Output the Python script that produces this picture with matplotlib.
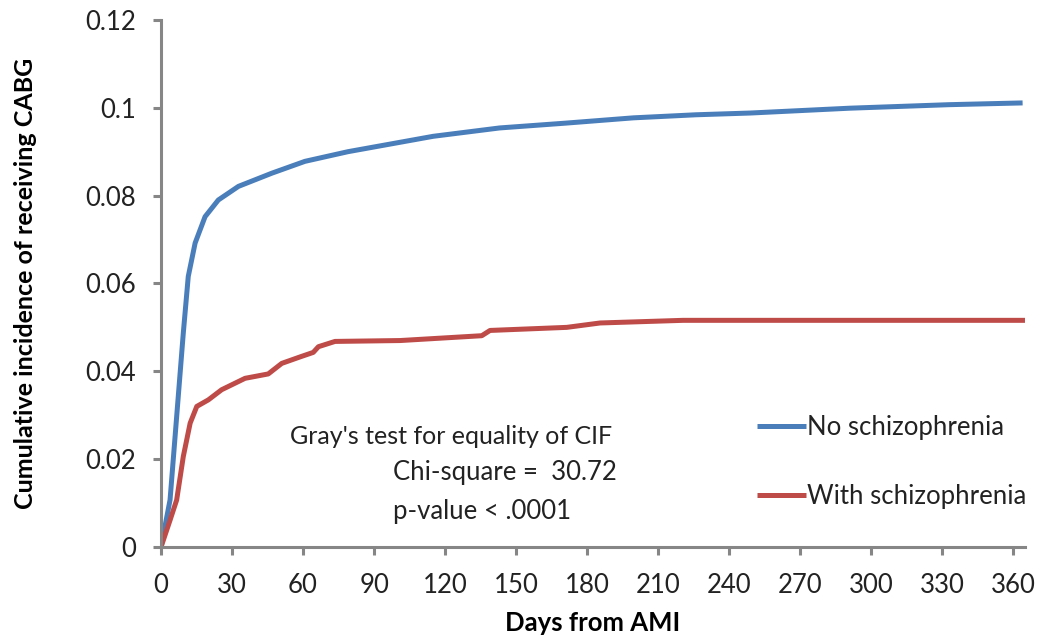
import matplotlib.pyplot as plt

plt.rcParams["font.family"] = ["Lato", "DejaVu Sans"]

# Values (days from AMI, cumulative incidence)
blue_days = [0, 3.8, 6.6, 9.4, 11.5, 14.4, 18.6, 24.2, 32.7, 46.8, 60.8, 79,
             115, 143, 171, 199.5, 226, 249, 291, 333, 364]
blue_cif = [0, 0.0107, 0.0297, 0.0487, 0.0616, 0.0692, 0.0752, 0.0790, 0.0821,
            0.0851, 0.0878, 0.0900, 0.0935, 0.0954, 0.0965, 0.0977, 0.0984,
            0.0988, 0.0999, 0.1007, 0.1011]

red_days = [0, 3.8, 6.6, 9.4, 12.3, 15.1, 20, 25.6, 35.5, 45.3, 51, 59.4, 64.3,
            66.5, 73.5, 101, 135.5, 139, 171.4, 185.5, 220.5, 365]
red_cif = [0, 0.0061, 0.0107, 0.0206, 0.0282, 0.0320, 0.0335, 0.0358, 0.0384,
           0.0394, 0.0418, 0.0434, 0.0443, 0.0456, 0.0468, 0.0470, 0.0481,
           0.0493, 0.0500, 0.0510, 0.0516, 0.0516]

x_ticks = list(range(0, 361, 30))
y_ticks = [0, 0.02, 0.04, 0.06, 0.08, 0.1, 0.12]
y_tick_labels = ["0", "0.02", "0.04", "0.06", "0.08", "0.1", "0.12"]

grey = "#868686"
text_col = "#222222"

fig = plt.figure(figsize=(10.39, 6.42), dpi=100)
ax = fig.add_axes([0.155, 0.148, 0.8315, 0.821])

ax.plot(blue_days, blue_cif, color="#4A7EBB", linewidth=3.6,
        label="No schizophrenia", solid_capstyle="butt")
ax.plot(red_days, red_cif, color="#BE4B48", linewidth=3.6,
        label="With schizophrenia", solid_capstyle="butt")

ax.set_xlim(0, 365)
ax.set_ylim(0, 0.12)
ax.set_xticks(x_ticks)
ax.set_yticks(y_ticks)
ax.set_yticklabels(y_tick_labels)

for side in ["top", "right"]:
    ax.spines[side].set_visible(False)
for side in ["left", "bottom"]:
    ax.spines[side].set_color(grey)
    ax.spines[side].set_linewidth(2.2)
ax.tick_params(axis="both", direction="out", length=6, width=2.2, color=grey,
               labelsize=18.5, labelcolor=text_col)
ax.tick_params(axis="y", pad=12)
ax.tick_params(axis="x", pad=13)

ax.set_xlabel("Days from AMI", fontsize=18.5, fontweight="bold", labelpad=9)
ax.set_ylabel("Cumulative incidence of receiving CABG", fontsize=18,
              fontweight="bold", labelpad=35)

ax.text(54.5, 0.0251, "Gray's test for equality of CIF", fontsize=18,
        va="center", color=text_col)
ax.text(98, 0.0169, "Chi-square =  30.72", fontsize=18.5, va="center",
        color=text_col)
ax.text(98, 0.0080, "p-value < .0001", fontsize=18.5, va="center",
        color=text_col)

ax.legend(loc="upper left", bbox_to_anchor=(0.675, 0.274), frameon=False,
          fontsize=18.5, handlelength=1.9, handletextpad=0.05,
          labelspacing=1.7, borderpad=0, labelcolor=text_col)

fig.savefig("out.png", dpi=100)
